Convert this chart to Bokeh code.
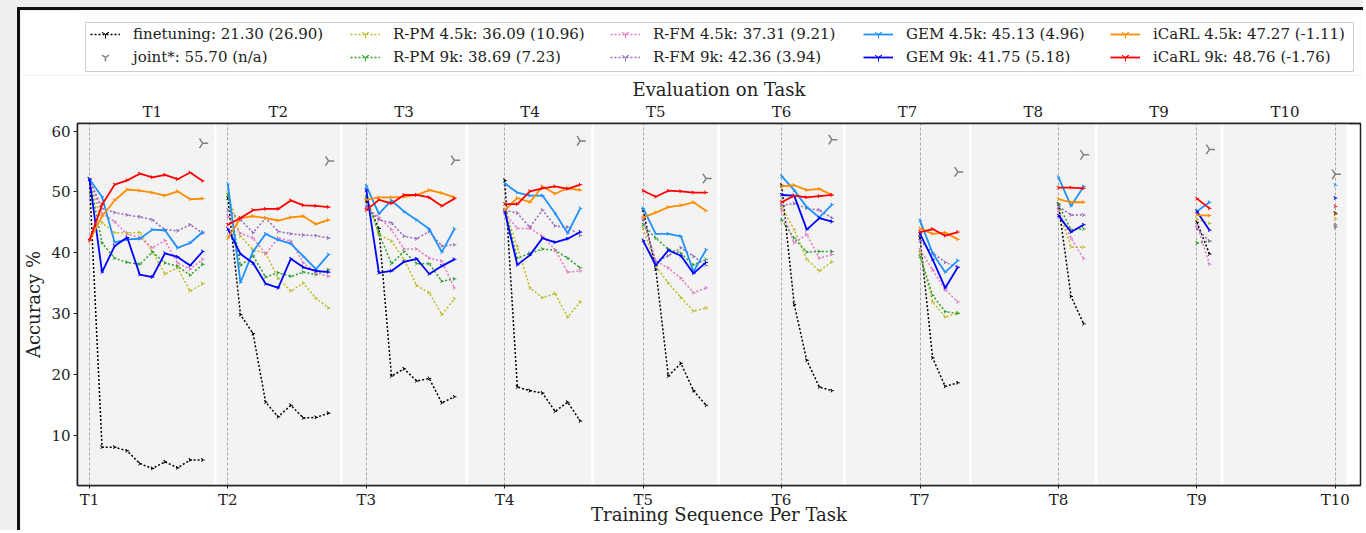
import numpy as np
from bokeh.plotting import figure
from bokeh.models import Range1d, LinearAxis, FixedTicker, Legend, LegendItem
from bokeh.layouts import column
from bokeh.embed import file_html
from bokeh.resources import INLINE

# ---------------- data ----------------
tasks = ["T1", "T2", "T3", "T4", "T5", "T6", "T7", "T8", "T9", "T10"]

finetuning = [
    [52.1, 8.0, 8.0, 7.4, 5.3, 4.5, 5.6, 4.6, 5.9, 5.9],
    [49.0, 29.8, 26.7, 15.4, 13.0, 14.9, 12.8, 12.9, 13.6],
    [48.5, 44.0, 19.7, 20.9, 18.9, 19.3, 15.3, 16.3],
    [51.9, 17.9, 17.3, 16.9, 13.9, 15.4, 12.3],
    [47.0, 37.3, 19.7, 21.8, 17.3, 14.9],
    [51.1, 31.5, 22.3, 17.9, 17.3],
    [42.5, 22.7, 18.0, 18.6],
    [48.0, 32.8, 28.3],
    [45.0, 39.8],
    [46.5],
]
joint = [58.0, 55.1, 55.2, 58.4, 52.2, 58.6, 53.3, 56.1, 57.0, 52.9]
rpm_45k = [
    [52.1, 44.9, 43.3, 43.3, 43.3, 40.2, 36.5, 37.5, 33.7, 34.9],
    [49.8, 42.7, 40.5, 39.9, 35.8, 33.7, 35.0, 32.5, 30.9],
    [49.0, 43.0, 41.9, 38.9, 34.6, 33.4, 29.8, 32.4],
    [47.0, 41.0, 34.2, 32.6, 33.3, 29.4, 31.9],
    [44.0, 37.8, 35.0, 32.6, 30.4, 30.9],
    [47.5, 43.8, 38.9, 37.0, 38.5],
    [40.0, 31.9, 29.4, 30.1],
    [47.0, 40.9, 40.9],
    [45.5, 44.8],
    [45.6],
]
rpm_9k = [
    [52.1, 41.6, 39.1, 38.4, 38.1, 40.1, 38.3, 37.8, 36.3, 38.1],
    [49.5, 37.9, 39.5, 36.0, 36.7, 36.1, 36.8, 36.4, 37.2],
    [49.2, 43.2, 38.2, 40.2, 38.2, 38.2, 35.3, 35.7],
    [47.0, 39.1, 39.9, 40.6, 40.4, 39.1, 37.5],
    [44.6, 42.4, 40.6, 39.9, 38.0, 38.9],
    [45.4, 42.4, 40.1, 40.2, 40.2],
    [39.4, 33.0, 30.3, 30.0],
    [47.9, 43.8, 43.9],
    [41.6, 41.9],
    [44.2],
]
rfm_45k = [
    [52.1, 46.5, 45.1, 43.0, 42.5, 40.8, 42.0, 38.3, 37.3, 38.9],
    [46.0, 43.2, 42.4, 39.8, 42.4, 41.9, 38.3, 36.7, 36.1],
    [47.5, 45.8, 43.8, 40.6, 40.6, 39.1, 38.6, 34.2],
    [46.5, 44.0, 44.0, 42.7, 40.5, 36.8, 37.0],
    [45.4, 38.6, 37.5, 35.8, 33.4, 34.2],
    [47.0, 41.6, 43.0, 39.1, 39.7],
    [40.5, 37.2, 33.9, 31.9],
    [47.0, 42.4, 39.0],
    [44.6, 38.1],
    [44.4],
]
rfm_9k = [
    [52.1, 47.3, 46.6, 46.2, 45.9, 45.4, 43.8, 43.6, 44.6, 43.2],
    [47.0, 45.4, 43.3, 45.7, 43.5, 43.1, 42.9, 42.8, 42.4],
    [47.6, 45.4, 44.9, 42.7, 42.3, 43.5, 41.1, 41.3],
    [47.0, 46.5, 44.2, 47.0, 44.4, 44.2, 42.8],
    [45.5, 38.5, 39.5, 40.8, 39.4, 37.9],
    [47.8, 48.1, 47.3, 47.0, 45.7],
    [42.0, 40.0, 38.4, 37.6],
    [47.6, 46.2, 46.2],
    [44.0, 41.9],
    [44.6],
]
gem_45k = [
    [52.1, 49.2, 41.7, 42.2, 42.3, 43.8, 43.7, 40.8, 41.6, 43.4],
    [51.3, 35.1, 40.2, 43.1, 42.1, 41.5, 39.4, 37.3, 39.7],
    [51.0, 46.4, 48.6, 46.8, 45.4, 43.9, 40.1, 43.9],
    [51.4, 49.9, 49.4, 49.4, 46.5, 43.2, 47.3],
    [47.3, 43.1, 43.1, 42.7, 36.9, 40.5],
    [52.6, 50.3, 47.5, 45.8, 47.9],
    [45.3, 39.9, 36.8, 38.7],
    [52.4, 47.7, 50.9],
    [46.8, 48.3],
    [51.1],
]
gem_9k = [
    [52.1, 36.8, 41.1, 42.5, 36.4, 36.0, 39.9, 39.3, 37.9, 40.2],
    [43.9, 39.8, 38.3, 34.9, 34.2, 39.0, 37.6, 37.0, 36.8],
    [50.3, 36.7, 37.0, 38.5, 39.0, 36.5, 37.8, 38.9],
    [46.8, 38.0, 39.6, 42.4, 41.7, 42.3, 43.4],
    [42.0, 37.9, 40.4, 39.5, 36.6, 38.4],
    [49.5, 49.4, 43.8, 45.7, 45.1],
    [43.1, 38.9, 34.2, 37.6],
    [46.1, 43.4, 44.6],
    [46.8, 43.7],
    [49.0],
]
icarl_45k = [
    [42.0, 46.0, 48.6, 50.4, 50.2, 49.9, 49.4, 50.1, 48.8, 48.9],
    [42.4, 45.7, 46.0, 45.7, 45.3, 45.8, 46.0, 44.7, 45.4],
    [48.7, 49.1, 49.1, 49.2, 49.5, 50.3, 49.8, 49.1],
    [47.0, 49.0, 48.3, 50.9, 49.7, 50.6, 50.3],
    [45.8, 46.6, 47.5, 47.8, 48.3, 46.9],
    [50.9, 51.1, 50.3, 50.5, 49.5],
    [44.0, 43.1, 43.3, 42.2],
    [48.8, 48.3, 48.3],
    [46.2, 46.1],
    [46.3],
]
icarl_9k = [
    [42.0, 47.9, 51.2, 51.9, 53.0, 52.4, 52.8, 52.1, 53.2, 51.8],
    [44.6, 45.7, 47.0, 47.2, 47.2, 48.6, 47.8, 47.7, 47.5],
    [47.0, 48.7, 48.1, 49.5, 49.5, 49.1, 47.7, 48.9],
    [48.0, 48.0, 50.1, 50.6, 50.9, 50.5, 51.2],
    [50.2, 49.2, 50.2, 50.1, 49.9, 49.9],
    [48.3, 49.4, 49.1, 49.3, 49.5],
    [43.4, 43.9, 42.8, 43.4],
    [50.7, 50.7, 50.6],
    [48.9, 47.3],
    [47.6],
]
legend_labels = [
    "finetuning: 21.30 (26.90)",
    "joint*: 55.70 (n/a)",
    "R-PM 4.5k: 36.09 (10.96)",
    "R-PM 9k: 38.69 (7.23)",
    "R-FM 4.5k: 37.31 (9.21)",
    "R-FM 9k: 42.36 (3.94)",
    "GEM 4.5k: 45.13 (4.96)",
    "GEM 9k: 41.75 (5.18)",
    "iCaRL 4.5k: 47.27 (-1.11)",
    "iCaRL 9k: 48.76 (-1.76)",
]
y_ticks = [10, 20, 30, 40, 50, 60]

# ---------------- styling ----------------
FONT = "DejaVu Serif"
TXT = "#222222"
n = len(tasks)
step = n + 1
W = 1346
LEG_H = 68
MAIN_H = 523 - LEG_H
BL, BR = 57, 6   # left / right border of both stacked figures

series = [
    (finetuning, "black", "dotted"),
    (rpm_45k, "#bcbd22", "dotted"),
    (rpm_9k, "#2ca02c", "dotted"),
    (rfm_45k, "#e377c2", "dotted"),
    (rfm_9k, "#9467bd", "dotted"),
    (gem_45k, "#1e90ff", "solid"),
    (gem_9k, "#0000ff", "solid"),
    (icarl_45k, "#ff8c00", "solid"),
    (icarl_9k, "#ff0000", "solid"),
]
series_labels = [legend_labels[0]] + legend_labels[2:]
JOINT_COLOR = "#7f7f7f"

# ---------------- main plot ----------------
p = figure(width=W, height=MAIN_H,
           x_range=Range1d(-0.95, 101.0), y_range=Range1d(1.7, 61.26),
           output_backend="svg", toolbar_location=None,
           min_border_left=BL, min_border_right=BR,
           min_border_top=45, min_border_bottom=45,
           background_fill_color="white", border_fill_color="white")
bottom = p.below[0]
left = p.left[0]

# panel backgrounds (one per evaluation task)
pl = [i * n for i in range(n)]
pl[0] = -5
pr = [(i + 1) * n for i in range(n)]
p.quad(left=pl, right=pr, bottom=-10, top=100, fill_color="#f3f3f3",
       line_color="white", line_width=2.5, level="image")

def dash_of(style):
    return "2 2" if style == "dotted" else "solid"

def width_of(style):
    return 1.5 if style == "dotted" else 1.8

for idx, (data, color, style) in enumerate(series):
    xs = [[i * step + k for k in range(len(v))] for i, v in enumerate(data)]
    p.multi_line(xs=xs, ys=data, line_color=color, line_width=width_of(style),
                 line_dash=dash_of(style))
    fx = [x for row in xs for x in row]
    fy = [y for row in data for y in row]
    p.scatter(fx, fy, marker="y", size=4, angle=np.pi / 2, line_color=color, line_width=1)
    if idx == 0:
        jx = [i * step + (n - 1 - i) for i in range(n)]
        p.scatter(jx, joint, marker="y", size=11, angle=np.pi / 2,
                  line_color=JOINT_COLOR, line_width=1.5)

# axes
xt = [i * step for i in range(n)]
bottom.ticker = FixedTicker(ticks=xt)
bottom.major_label_overrides = {x: t for x, t in zip(xt, tasks)}
bottom.axis_label = "Training Sequence Per Task"
left.ticker = FixedTicker(ticks=y_ticks)
left.axis_label = "Accuracy %"

top_ticks = [i * n + n / 2 for i in range(n)]
top = LinearAxis(ticker=FixedTicker(ticks=top_ticks),
                 major_label_overrides={t: s for t, s in zip(top_ticks, tasks)},
                 axis_label="Evaluation on Task")
p.add_layout(top, "above")

for ax in [bottom, left, top]:
    ax.axis_label_text_font = FONT
    ax.axis_label_text_font_size = "18px"
    ax.axis_label_text_font_style = "normal"
    ax.axis_label_text_color = TXT
    ax.major_label_text_font = FONT
    ax.major_label_text_font_size = "15px"
    ax.major_label_text_color = TXT
    ax.axis_line_color = TXT
    ax.axis_line_width = 1.5
    ax.major_tick_line_color = TXT
    ax.minor_tick_line_color = None
    ax.major_tick_in = 0

left.major_tick_out = 4
left.major_label_standoff = 3
left.axis_label_standoff = 4
bottom.major_tick_out = 3
bottom.major_label_standoff = 2
bottom.axis_label_standoff = -8
top.major_tick_out = 0
top.major_label_standoff = 3
top.axis_label_standoff = 0

p.ygrid.visible = False
p.xgrid.ticker = FixedTicker(ticks=xt)
p.xgrid.grid_line_color = "#a8a8a8"
p.xgrid.grid_line_dash = "3 2"
p.xgrid.grid_line_width = 1

p.outline_line_color = TXT
p.outline_line_width = 1.5

# ---------------- legend strip ----------------
# strip data units are page pixels of the frame (frame spans page x 77..1360)
FL = 20 + BL
FR = 20 + W - BR
lf = figure(width=W, height=LEG_H, x_range=Range1d(FL, FR), y_range=Range1d(0, LEG_H),
            x_axis_type=None, y_axis_type=None,
            min_border_left=BL, min_border_right=BR, min_border_top=0, min_border_bottom=0,
            output_backend="svg", toolbar_location=None, outline_line_color=None,
            background_fill_color="white", border_fill_color="white")
lf.grid.visible = False
lf.quad(left=[85], right=[1353], bottom=[7], top=[56], fill_color="white",
        line_color="#cfcfcf", line_width=1)

items = []
off = [-100]
for idx, (data, color, style) in enumerate(series):
    ln = lf.line(x=[-100, -90], y=[-100, -100], line_color=color,
                 line_width=width_of(style), line_dash=dash_of(style))
    mk = lf.scatter(x=off, y=off, marker="y", size=8, line_color=color, line_width=1)
    items.append(LegendItem(label=series_labels[idx], renderers=[ln, mk]))
    if idx == 0:
        jm = lf.scatter(x=off, y=off, marker="y", size=8, line_color=JOINT_COLOR, line_width=1.5)
        items.append(LegendItem(label=legend_labels[1], renderers=[jm]))

col_x = [90, 350, 610, 863, 1110]   # page x of each legend column
for c, cx in enumerate(col_x):
    leg = Legend(items=items[2 * c:2 * c + 2], location=(cx - FL, 11), orientation="vertical",
                 label_text_font=FONT, label_text_font_size="15px", label_text_color=TXT,
                 glyph_width=30, glyph_height=20, label_height=20,
                 label_standoff=13, spacing=3, padding=0, margin=0,
                 border_line_color=None, background_fill_alpha=0)
    lf.add_layout(leg)

lf.styles = {"border-left": "3px solid #111111", "border-top": "3px solid #111111"}
p.styles = {"border-left": "3px solid #111111"}
root = column(lf, p, spacing=0,
              styles={"background-color": "#efefef", "padding-left": "17px", "padding-top": "7px"})

open("out.html", "w").write(file_html(root, INLINE))
